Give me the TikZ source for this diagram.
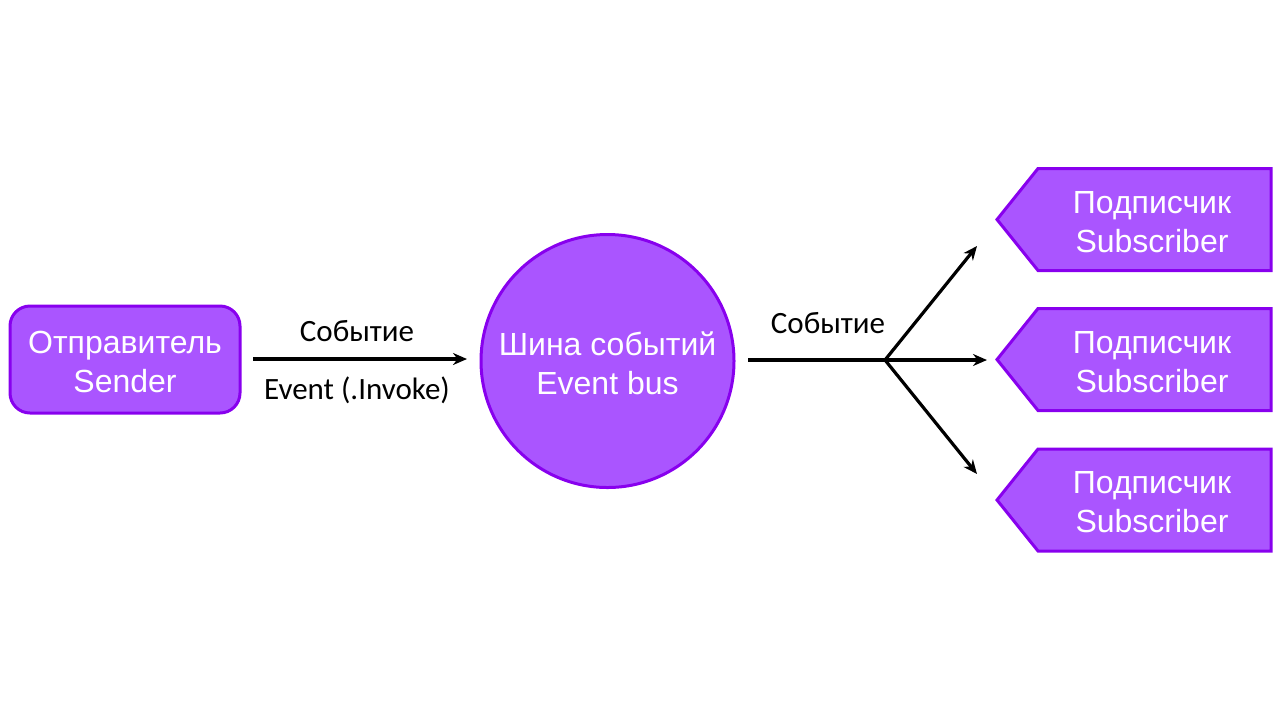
\documentclass[tikz,border=0pt]{standalone}
\usepackage{fontspec}
\setmainfont{Liberation Sans}
\newfontfamily\lblfont{Carlito}
\usetikzlibrary{arrows.meta}
\definecolor{pfill}{HTML}{AA55FF}
\definecolor{pline}{HTML}{8800EE}
\begin{document}
\begin{tikzpicture}[x=0.5pt,y=-0.5pt,
  nodetext/.style={text=white,font=\fontsize{16}{19.5}\selectfont,align=center},
  purple/.style={fill=pfill,draw=pline,line width=1.5pt},
  lbl/.style={font=\lblfont\fontsize{15.5}{18}\selectfont,text=black},
  conn/.style={line width=1.6pt,draw=black,-{Stealth[length=7pt,width=6pt]}},
  plain/.style={line width=1.6pt,draw=black}]
\useasboundingbox (0,0) rectangle (1280,720);
% sender
\node[purple,rounded corners=10pt,minimum width=115pt,minimum height=53.5pt,inner sep=0pt] (sender) at (125,359.5) {};
\node[nodetext] (sendertxt) at (125,362) {Отправитель\\Sender};
% bus
\node[purple,circle,minimum size=126.5pt,inner sep=0pt] (bus) at (607.5,361) {};
\node[nodetext] (bustxt) at (607.5,363.5) {Шина событий\\Event bus};
% subscribers
\foreach \n/\y in {s1/219.5,s2/359.5,s3/500} {
  \draw[purple] (997,\y) -- (1038,\y-51) -- (1271,\y-51) -- (1271,\y+51) -- (1038,\y+51) -- cycle;
  \coordinate (\n) at (997,\y);
  \node[nodetext] (\n txt) at (1152,\y+2.5) {Подписчик\\Subscriber};
}
% arrow 1
\coordinate (a1s) at (253,359);
\coordinate (a1e) at (467,359);
\draw[conn] (a1s) -- (a1e);
\node[lbl] (l1) at (357,331) {Событие};
\node[lbl] (l2) at (357,390) {Event (.Invoke)};
% fan-out
\coordinate (b0) at (748,360);
\coordinate (split) at (885,360);
\coordinate (t1) at (977,246);
\coordinate (t2) at (987,360);
\coordinate (t3) at (977,474);
\draw[plain] (b0) -- (split);
\draw[conn] (split) -- (t1);
\draw[conn] (split) -- (t2);
\draw[conn] (split) -- (t3);
\node[lbl] (l3) at (828,323) {Событие};
\end{tikzpicture}
\end{document}
